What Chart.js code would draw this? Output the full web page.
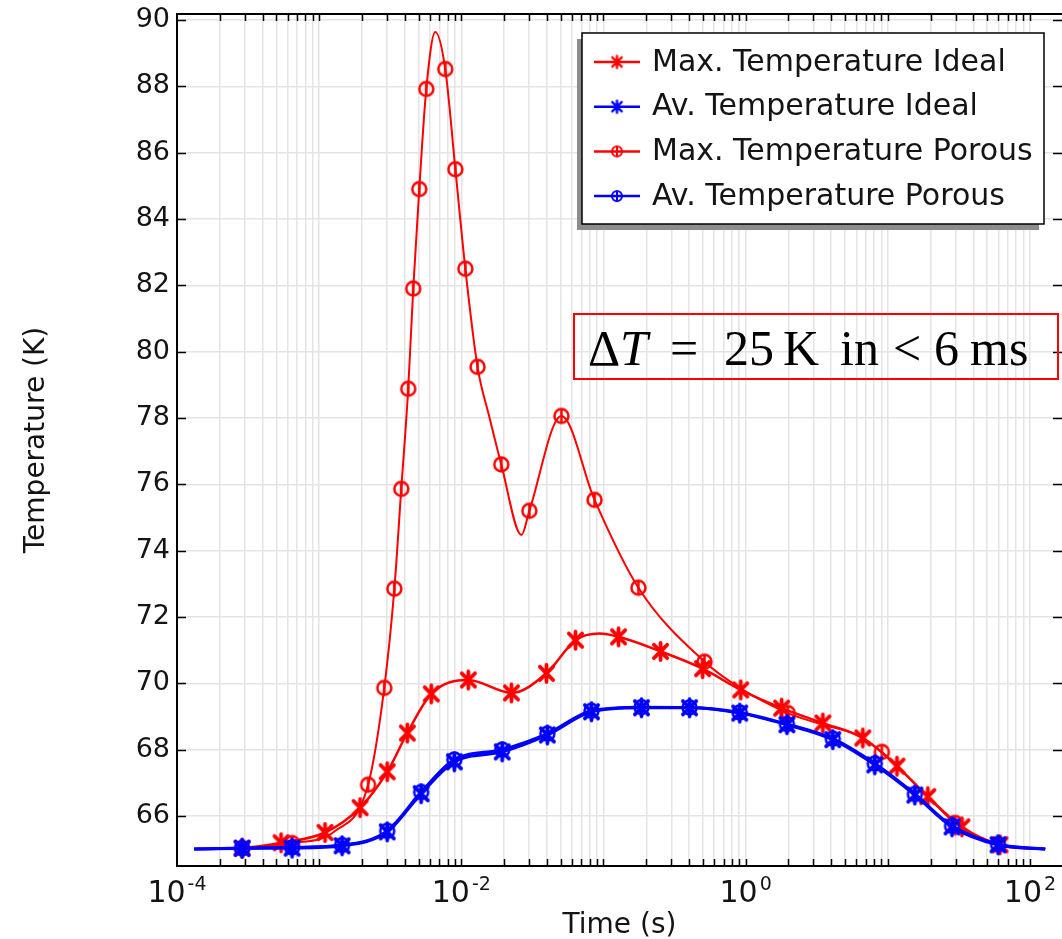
<!DOCTYPE html>
<html>
<head>
<meta charset="utf-8">
<title>Temperature vs time</title>
<script src="https://cdn.jsdelivr.net/npm/chart.js@4.4.0/dist/chart.umd.min.js"></script>
<style>
  html, body { margin: 0; padding: 0; background: #fff; }
  #chart { display: block; }
</style>
</head>
<body>
<canvas id="chart" width="1062" height="939"></canvas>
<script>
// time in seconds, temperature in K, 1 = a marker is drawn at that sample
const maxIdealTime = [1.32e-4, 2.87e-4, 5.4e-4, 1.10e-3, 1.94e-3, 3.01e-3, 4.17e-3, 6.15e-3, 1.12e-2, 2.25e-2, 3.97e-2, 6.35e-2, 9.37e-2, 0.1276, 0.252, 0.498, 0.923, 1.79, 3.49, 6.67, 11.6, 19.1, 33.2, 61.5, 128];
const maxIdealTemp = [65.0, 65.03, 65.19, 65.5, 66.25, 67.33, 68.5, 69.68, 70.1, 69.71, 70.3, 71.3, 71.5, 71.4, 70.96, 70.44, 69.8, 69.25, 68.8, 68.35, 67.5, 66.58, 65.67, 65.13, 65.0];
const maxIdealMark = [0, 1, 1, 1, 1, 1, 1, 1, 1, 1, 1, 1, 0, 1, 1, 1, 1, 1, 1, 1, 1, 1, 1, 1, 0];

const avIdealTime = [1.32e-4, 2.87e-4, 6.45e-4, 1.45e-3, 3.01e-3, 5.22e-3, 8.93e-3, 1.94e-2, 4.03e-2, 8.23e-2, 0.185, 0.403, 0.908, 1.95, 4.10, 8.10, 15.5, 28.3, 59.6, 128];
const avIdealTemp = [65.0, 65.02, 65.03, 65.1, 65.52, 66.67, 67.63, 67.93, 68.44, 69.14, 69.26, 69.26, 69.1, 68.75, 68.3, 67.54, 66.63, 65.67, 65.13, 65.0];
const avIdealMark = [0, 1, 1, 1, 1, 1, 1, 1, 1, 1, 1, 1, 1, 1, 1, 1, 1, 1, 1, 0];

const maxPorousTime = [1.32e-4, 2.87e-4, 6.45e-4, 1.3e-3, 2.21e-3, 2.87e-3, 3.38e-3, 3.78e-3, 4.23e-3, 4.59e-3, 5.06e-3, 5.67e-3, 6.56e-3, 7.71e-3, 9.08e-3, 1.067e-2, 1.30e-2, 1.57e-2, 1.91e-2, 2.65e-2, 3.01e-2, 5.06e-2, 8.65e-2, 0.176, 0.514, 0.92, 1.98, 3.5, 6.0, 9.08, 19, 29.7, 61.5, 128];
const maxPorousTemp = [65.0, 65.02, 65.18, 65.55, 66.94, 69.86, 72.85, 75.86, 78.88, 81.9, 84.9, 87.92, 89.64, 88.52, 85.5, 82.5, 79.54, 78.05, 76.6, 74.47, 75.2, 78.06, 75.53, 72.88, 70.65, 69.85, 69.1, 68.75, 68.45, 67.93, 66.6, 65.79, 65.1, 65.0];
const maxPorousMark = [0, 1, 1, 0, 1, 1, 1, 1, 1, 1, 1, 1, 0, 1, 1, 1, 1, 0, 1, 0, 1, 1, 1, 1, 1, 0, 1, 0, 0, 1, 0, 1, 0, 0];

const avPorousTime = [1.32e-4, 2.87e-4, 6.45e-4, 1.45e-3, 3.01e-3, 5.22e-3, 8.93e-3, 1.94e-2, 4.03e-2, 8.23e-2, 0.185, 0.403, 0.908, 1.95, 4.10, 8.10, 15.5, 28.3, 59.6, 128];
const avPorousTemp = [65.0, 65.03, 65.05, 65.12, 65.55, 66.72, 67.7, 68.0, 68.48, 69.17, 69.28, 69.27, 69.12, 68.77, 68.33, 67.58, 66.66, 65.7, 65.15, 65.0];
const avPorousMark = [0, 1, 1, 1, 1, 1, 1, 1, 1, 1, 1, 1, 1, 1, 1, 1, 1, 1, 1, 0];

const seriesNames = ['Max. Temperature Ideal', 'Av. Temperature Ideal', 'Max. Temperature Porous', 'Av. Temperature Porous'];
const xDecades = [-4, -3, -2, -1, 0, 1, 2];
const xLabelDecades = [-4, -2, 0, 2];
const yTickValues = [66, 68, 70, 72, 74, 76, 78, 80, 82, 84, 86, 88, 90];
const noteParts = ['\u0394', 'T', '=', '25', 'K', 'in', '<', '6', 'ms'];

const RED = '#ff0000';
const BLUE = '#0000ff';
const TEXT = '#141414';
const FONT = "'DejaVu Sans', sans-serif";

// comsol style markers: circle with a bar through it, and a six arm asterisk
function makeMarker(kind, color, r, lw) {
    const size = Math.ceil(2 * r + lw + 2);
    const c = document.createElement('canvas');
    c.width = size;
    c.height = size;
    const g = c.getContext('2d');
    g.strokeStyle = color;
    g.lineWidth = lw;
    g.lineCap = 'round';
    const m = size / 2;
    g.beginPath();
    if (kind === 'circle') {
        g.arc(m, m, r, 0, Math.PI * 2);
        g.moveTo(m, m - r);
        g.lineTo(m, m + r);
    } else {
        const d = r * 0.78;
        g.moveTo(m, m - r);
        g.lineTo(m, m + r);
        g.moveTo(m - d, m - d);
        g.lineTo(m + d, m + d);
        g.moveTo(m + d, m - d);
        g.lineTo(m - d, m + d);
    }
    g.stroke();
    return c;
}

const markers = [
    makeMarker('star', RED, 8.5, 3.8),
    makeMarker('star', BLUE, 8.5, 3.8),
    makeMarker('circle', RED, 7, 2.5),
    makeMarker('circle', BLUE, 7, 2.5),
];
const legendMarkers = [
    makeMarker('star', RED, 6, 2.4),
    makeMarker('star', BLUE, 6, 2.4),
    makeMarker('circle', RED, 5, 2),
    makeMarker('circle', BLUE, 5, 2),
];
const colors = [RED, BLUE, RED, BLUE];

function series(i, times, temps, marks, width, order) {
    return {
        label: seriesNames[i],
        data: times.map((t, k) => ({ x: t, y: temps[k] })),
        borderColor: colors[i],
        backgroundColor: colors[i],
        borderWidth: width,
        pointStyle: markers[i],
        pointRadius: marks.map(m => (m ? 8 : 0)),
        pointHoverRadius: 0,
        cubicInterpolationMode: 'monotone',
        fill: false,
        order: order,
    };
}

const overlay = {
    id: 'overlay',
    afterDraw(chart) {
        const { ctx, chartArea: a, scales } = chart;
        const x = scales.x;
        const y = scales.y;
        ctx.save();

        // frame and inward ticks
        ctx.strokeStyle = '#000';
        ctx.lineWidth = 2;
        ctx.beginPath();
        ctx.moveTo(a.left, a.bottom);
        ctx.lineTo(a.left, a.top);
        ctx.lineTo(a.right, a.top);
        ctx.stroke();
        ctx.lineWidth = 1.5;
        ctx.beginPath();
        x.ticks.forEach(t => {
            const px = Math.round(x.getPixelForValue(t.value)) + 0.5;
            if (px <= a.left + 1 || px >= a.right - 1) return;
            ctx.moveTo(px, a.bottom);
            ctx.lineTo(px, a.bottom - 7);
            ctx.moveTo(px, a.top);
            ctx.lineTo(px, a.top + 7);
        });
        yTickValues.forEach(v => {
            const py = Math.round(y.getPixelForValue(v)) + 0.5;
            ctx.moveTo(a.left, py);
            ctx.lineTo(a.left + 9, py);
            ctx.moveTo(a.right, py);
            ctx.lineTo(a.right - 9, py);
        });
        ctx.stroke();

        // decade labels as 10 with a raised exponent
        ctx.fillStyle = TEXT;
        ctx.textBaseline = 'alphabetic';
        ctx.textAlign = 'left';
        xLabelDecades.forEach(e => {
            const px = x.getPixelForValue(Math.pow(10, e));
            const exp = e < 0 ? '-' + (-e) : String(e);
            ctx.font = '30px ' + FONT;
            const w1 = ctx.measureText('10').width;
            ctx.font = '19px ' + FONT;
            const w2 = ctx.measureText(exp).width;
            const start = px - (w1 + 2 + w2) / 2;
            ctx.font = '30px ' + FONT;
            ctx.fillText('10', start, a.bottom + 36);
            ctx.font = '19px ' + FONT;
            ctx.fillText(exp, start + w1 + 2, a.bottom + 24);
        });

        // legend box with its shadow
        const lw = 462, lh = 191;
        const lx = a.right - 480, ly = a.top + 19;
        ctx.fillStyle = '#8c8c8c';
        ctx.fillRect(lx - 5, ly + 6, lw, lh);
        ctx.fillStyle = '#fff';
        ctx.fillRect(lx, ly, lw, lh);
        ctx.strokeStyle = '#000';
        ctx.lineWidth = 1.5;
        ctx.strokeRect(lx, ly, lw, lh);
        ctx.font = '30px ' + FONT;
        ctx.textBaseline = 'middle';
        seriesNames.forEach((name, i) => {
            const ry = ly + 29 + i * 44.7;
            ctx.strokeStyle = colors[i];
            ctx.lineWidth = 2.5;
            ctx.beginPath();
            ctx.moveTo(lx + 12, ry);
            ctx.lineTo(lx + 58, ry);
            ctx.stroke();
            const mk = legendMarkers[i];
            ctx.drawImage(mk, lx + 35 - mk.width / 2, ry - mk.height / 2);
            ctx.fillStyle = TEXT;
            ctx.fillText(name, lx + 70, ry + 1);
        });

        // annotation
        const bx = a.right - 488, by = a.top + 300;
        ctx.strokeStyle = RED;
        ctx.lineWidth = 2;
        ctx.strokeRect(bx, by, 484, 65);
        const offsets = [14, 46, 96, 150, 209, 266, 319, 360, 396];
        ctx.fillStyle = '#000';
        ctx.textBaseline = 'alphabetic';
        noteParts.forEach((p, i) => {
            ctx.font = (p === 'T' ? 'italic ' : '') + "50px 'Liberation Serif', 'DejaVu Serif', serif";
            ctx.fillText(p, bx + offsets[i], by + 51);
        });
        ctx.restore();
    }
};

document.addEventListener('DOMContentLoaded', () => {
    const ctx = document.getElementById('chart').getContext('2d');

    new Chart(ctx, {
        type: 'line',
        data: {
            datasets: [
                series(0, maxIdealTime, maxIdealTemp, maxIdealMark, 2.5, 2),
                series(1, avIdealTime, avIdealTemp, avIdealMark, 3, 1),
                series(2, maxPorousTime, maxPorousTemp, maxPorousMark, 2, 3),
                series(3, avPorousTime, avPorousTemp, avPorousMark, 3, 0),
            ],
        },
        options: {
            responsive: false,
            animation: false,
            layout: { padding: { top: 14, right: 0, left: 0, bottom: 0 } },
            plugins: { legend: { display: false }, tooltip: { enabled: false } },
            scales: {
                x: {
                    type: 'logarithmic',
                    min: 1e-4,
                    max: 168,
                    afterBuildTicks: scale => {
                        const ticks = [];
                        xDecades.forEach(e => {
                            for (let s = 1; s <= 9; s++) {
                                const v = s * Math.pow(10, e);
                                if (v <= scale.max) ticks.push({ value: v });
                            }
                        });
                        scale.ticks = ticks;
                    },
                    afterFit: scale => { scale.height = 73; },
                    ticks: {
                        autoSkip: false,
                        maxRotation: 0,
                        minRotation: 0,
                        callback: () => '',
                    },
                    grid: { color: '#e4e4e4', lineWidth: 1.5, drawTicks: false },
                    border: { color: '#000', width: 2 },
                    title: {
                        display: true,
                        text: 'Time (s)',
                        color: TEXT,
                        font: { family: FONT, size: 28 },
                        padding: { top: 0, bottom: -4 },
                    },
                },
                y: {
                    min: 64.49,
                    max: 90.18,
                    afterFit: scale => { scale.width = 177; },
                    ticks: {
                        stepSize: 2,
                        includeBounds: false,
                        padding: 7,
                        color: TEXT,
                        font: { family: FONT, size: 27, lineHeight: 0.4 },
                    },
                    grid: { color: '#e4e4e4', lineWidth: 1.5, drawTicks: false },
                    border: { color: '#000', width: 2 },
                    title: {
                        display: true,
                        text: 'Temperature (K)',
                        color: TEXT,
                        font: { family: FONT, size: 28 },
                        padding: { top: 20, bottom: 0 },
                    },
                },
            },
        },
        plugins: [overlay],
    });
});
</script>
</body>
</html>
